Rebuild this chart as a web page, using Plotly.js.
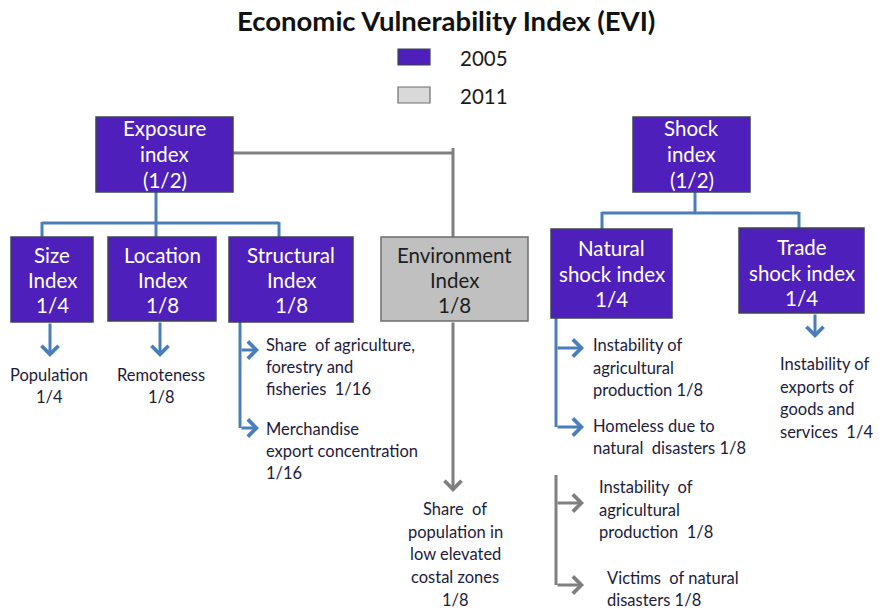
<!DOCTYPE html>
<html>
<head>
<meta charset="utf-8">
<script src="https://cdn.plot.ly/plotly-3.0.1.min.js"></script>
<style>html,body{margin:0;padding:0;background:#fff}#chart{width:879px;height:612px}</style>
</head>
<body>
<div id="chart"></div>
<script>
// ---------- content ----------
const chartTitle = 'Economic Vulnerability Index (EVI)';
const legendYears = ['2005', '2011'];

const boxLabels = [
  'Exposure<br>index<br>(1/2)',
  'Shock<br>index<br>(1/2)',
  'Size<br>Index<br>1/4',
  'Location<br>Index<br>1/8',
  'Structural<br>Index<br>1/8',
  'Environment<br>Index<br>1/8',
  'Natural<br>shock index<br>1/4',
  'Trade<br>shock index<br>1/4'
];
const boxYears = ['2005', '2005', '2005', '2005', '2005', '2011', '2005', '2005'];

const leafLabels = [
  'Population<br>1/4',
  'Remoteness<br>1/8',
  'Share  of agriculture,<br>forestry and<br>fisheries  1/16',
  'Merchandise<br>export concentration<br>1/16',
  'Share  of<br>population in<br>low elevated<br>costal zones<br>1/8',
  'Instability of<br>agricultural<br>production 1/8',
  'Homeless due to<br>natural  disasters 1/8',
  'Instability of<br>exports of<br>goods and<br>services  1/4',
  'Instability  of<br>agricultural<br>production  1/8',
  'Victims  of natural<br>disasters 1/8'
];
const leafYears = ['2005', '2005', '2005', '2005', '2011', '2005', '2005', '2005', '2011', '2011'];

// ---------- geometry (pixel space) ----------
const boxGeom = [ // x0, x1, y0, y1, firstLineY, lineStep
  [96, 233, 117, 192, 128, 26],
  [633, 750, 117, 192, 128, 26],
  [11, 93, 237, 322, 255, 25],
  [108, 216, 237, 321, 255, 25],
  [229, 353, 237, 322, 255, 25],
  [381, 528, 237, 321, 255, 25],
  [551, 672, 229, 318, 248, 25.5],
  [739, 864, 228, 313, 247, 25.5]
];
const leafGeom = [ // x, anchor, firstLineY, lineStep
  [49, 'center', 375, 22],
  [161, 'center', 375, 22],
  [264, 'left', 345, 22],
  [264, 'left', 429, 22],
  [455, 'center', 509, 22.7],
  [591, 'left', 345, 22.5],
  [591, 'left', 426, 22],
  [778, 'left', 364, 22.5],
  [597, 'left', 487, 22.5],
  [605, 'left', 578, 22]
];
// connector segments: [x0,y0,x1,y1,year]
const segs = [
  [156, 192, 156, 237, '2005'], [42, 223, 279, 223, '2005'],
  [42, 222, 42, 237, '2005'], [279, 222, 279, 237, '2005'],
  [240, 322, 240, 428, '2005'],
  [695, 192, 695, 213, '2005'], [602, 213, 799, 213, '2005'],
  [602, 212, 602, 229, '2005'], [799, 212, 799, 228, '2005'],
  [556, 318, 556, 427, '2005'],
  [233, 153, 453, 153, '2011'], [453, 148, 453, 237, '2011'],
  [556, 475, 556, 585, '2011']
];
// arrows: [tailX, tailY, tipX, tipY, year]
const arrows = [
  [50, 322, 50, 357, '2005'], [160, 321, 160, 357, '2005'],
  [240, 350, 259, 350, '2005'], [240, 428, 259, 428, '2005'],
  [556, 348, 584, 348, '2005'], [556, 427, 584, 427, '2005'],
  [815, 313, 815, 338, '2005'],
  [453, 321, 453, 492, '2011'],
  [556, 503, 584, 503, '2011'], [556, 585, 584, 585, '2011']
];

// ---------- styles ----------
const FONT = 'Lato, "Open Sans", sans-serif';
const fillFor = {'2005': '#4f1fbb', '2011': '#c0c0c0'};
const lineFor = {'2005': '#3c4650', '2011': '#6e6e6e'};
const textFor = {'2005': '#ffffff', '2011': '#1e1e1e'};
const connFor = {'2005': '#4a7ebb', '2011': '#7f7f7f'};

const shapes = [];
const annotations = [];

annotations.push({x: 446, y: 20, xref: 'x', yref: 'y', text: '<b>' + chartTitle + '</b>',
  showarrow: false, xanchor: 'center', yanchor: 'middle',
  font: {family: FONT, size: 27.5, color: '#111111'}});

// legend
const legendSwatch = {'2005': '#4f1fbb', '2011': '#d9d9d9'};
const legendRowY = [57, 95];
legendYears.forEach((yr, i) => {
  shapes.push({type: 'rect', xref: 'x', yref: 'y', x0: 398, x1: 430,
    y0: legendRowY[i] - 8, y1: legendRowY[i] + 8,
    fillcolor: legendSwatch[yr], line: {color: lineFor[yr], width: 1.2}});
  annotations.push({x: 458, y: legendRowY[i] + 1, xref: 'x', yref: 'y', text: yr,
    showarrow: false, xanchor: 'left', yanchor: 'middle',
    font: {family: FONT, size: 20.5, color: '#1a1a1a'}});
});

// connectors
segs.forEach(s => shapes.push({type: 'line', xref: 'x', yref: 'y',
  x0: s[0], y0: s[1], x1: s[2], y1: s[3], line: {color: connFor[s[4]], width: 3}}));
arrows.forEach(a => annotations.push({x: a[2], y: a[3], ax: a[0], ay: a[1],
  xref: 'x', yref: 'y', axref: 'x', ayref: 'y', text: '', showarrow: true,
  arrowhead: 4, arrowsize: 1.1, arrowwidth: 3, arrowcolor: connFor[a[4]]}));

// boxes
boxLabels.forEach((lab, i) => {
  const g = boxGeom[i], yr = boxYears[i];
  shapes.push({type: 'rect', xref: 'x', yref: 'y', x0: g[0], x1: g[1], y0: g[2], y1: g[3],
    fillcolor: fillFor[yr], line: {color: lineFor[yr], width: 1.5}});
  lab.split('<br>').forEach((ln, k) => annotations.push({
    x: (g[0] + g[1]) / 2, y: g[4] + k * g[5], xref: 'x', yref: 'y', text: ln,
    showarrow: false, xanchor: 'center', yanchor: 'middle',
    font: {family: FONT, size: 20.5, color: textFor[yr]}}));
});

// leaves
leafLabels.forEach((lab, i) => {
  const g = leafGeom[i];
  lab.split('<br>').forEach((ln, k) => annotations.push({
    x: g[0], y: g[2] + k * g[3], xref: 'x', yref: 'y', text: ln,
    showarrow: false, xanchor: g[1], yanchor: 'middle',
    font: {family: FONT, size: 16.5, color: '#1c1c3c'}}));
});

const layout = {
  width: 879, height: 612,
  margin: {l: 0, r: 0, t: 0, b: 0},
  paper_bgcolor: '#ffffff', plot_bgcolor: '#ffffff',
  xaxis: {range: [0, 879], visible: false, fixedrange: true},
  yaxis: {range: [612, 0], visible: false, fixedrange: true},
  showlegend: false,
  shapes: shapes,
  annotations: annotations
};

Plotly.newPlot('chart', [], layout, {displayModeBar: false, staticPlot: true});
</script>
</body>
</html>
